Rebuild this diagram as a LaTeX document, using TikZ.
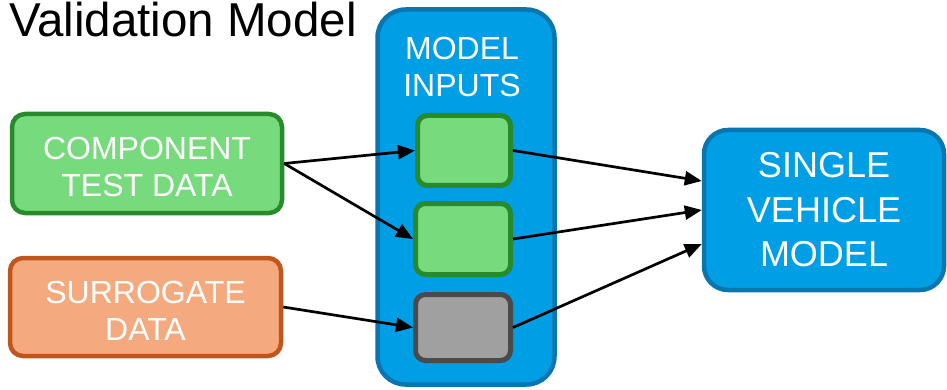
\documentclass[tikz,border=0pt]{standalone}
\usepackage{fontspec}
\setmainfont{Liberation Sans}
\usetikzlibrary{arrows.meta}
\definecolor{gfill}{HTML}{77DB7D}
\definecolor{gdraw}{HTML}{278A2B}
\definecolor{ofill}{HTML}{F4AA7E}
\definecolor{odraw}{HTML}{C0561C}
\definecolor{bfill}{HTML}{009FE5}
\definecolor{bdraw}{HTML}{0A76B0}
\definecolor{kfill}{HTML}{A0A0A0}
\definecolor{kdraw}{HTML}{4A4A4A}
\tikzset{
  srcbox/.style={draw, line width=4.5pt, rounded corners=13pt, inner sep=0pt, align=center,
    text=white, font=\fontsize{32}{37}\selectfont},
  inbox/.style={draw=gdraw, fill=gfill, line width=5pt, rounded corners=10pt, inner sep=0pt},
  arr/.style={line width=2.7pt, -{Triangle[length=17pt,width=14pt]}},
}
\begin{document}
\begin{tikzpicture}[x=1pt,y=-1pt]
\useasboundingbox (0,0) rectangle (947,390);
\node[anchor=base west, font=\fontsize{47.5}{50}\selectfont, inner sep=0pt] (title) at (9,37) {Validation Model};
\node[draw=bdraw, fill=bfill, line width=4.5pt, rounded corners=28pt, minimum width=177pt, minimum height=375pt, inner sep=0pt] (big) at (466,197) {};
\node[text=white, align=center, font=\fontsize{32}{37}\selectfont, inner sep=0pt] (lbl) at (462,67) {MODEL\\INPUTS};
\node[srcbox, draw=gdraw, fill=gfill, minimum width=270pt, minimum height=99pt] (comp) at (147,163.5) {\rule{0pt}{30pt}COMPONENT\\TEST DATA};
\node[srcbox, draw=odraw, fill=ofill, minimum width=271pt, minimum height=98pt] (surr) at (145.5,307) {\rule{0pt}{30pt}SURROGATE\\DATA};
\node[inbox, minimum width=93pt, minimum height=70pt] (in1) at (464,150.5) {};
\node[inbox, minimum width=95pt, minimum height=71pt] (in2) at (463,239) {};
\node[inbox, draw=kdraw, fill=kfill, minimum width=95pt, minimum height=66pt] (in3) at (463,327.5) {};
\node[draw=bdraw, fill=bfill, line width=4.5pt, rounded corners=24pt, minimum width=240pt, minimum height=160pt, inner sep=0pt, align=center, text=white, font=\fontsize{36}{44.5}\selectfont] (svm) at (824,210) {SINGLE\\VEHICLE\\MODEL};
\draw[arr] (comp.east) -- (in1.west);
\draw[arr] (comp.east) -- (in2.west);
\draw[arr] (surr.east) -- (in3.west);
\draw[arr] (in1.east) -- ([yshift=29pt]svm.west);
\draw[arr] (in2.east) -- (svm.west);
\draw[arr] (in3.east) -- ([yshift=-34pt]svm.west);
\end{tikzpicture}
\end{document}
